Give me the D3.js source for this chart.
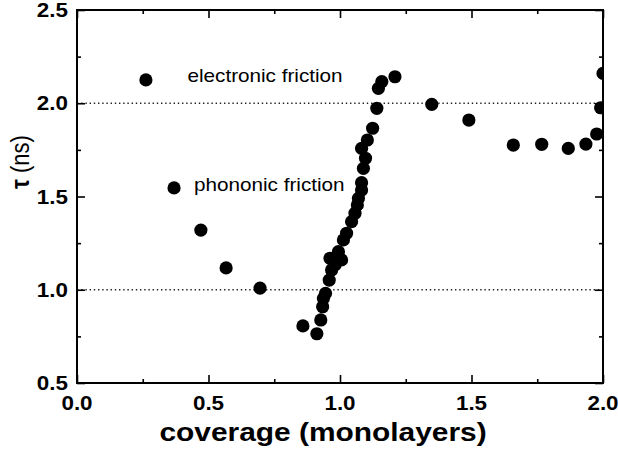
<!DOCTYPE html>
<html>
<head>
<meta charset="utf-8">
<script src="https://cdn.jsdelivr.net/npm/d3@7"></script>
<style>
  html, body { margin: 0; padding: 0; background: #fff; }
  svg { display: block; font-family: "Liberation Sans", Arial, Helvetica, sans-serif; }
</style>
</head>
<body>
<svg id="chart" width="618" height="453"></svg>
<script>
// Relaxation time vs. adsorbate coverage
const coverage = [0.262, 0.369, 0.471, 0.567, 0.696, 0.859, 0.912, 0.927, 0.934, 0.937,
  0.945, 0.959, 0.968, 0.962, 0.987, 1.006, 0.994, 0.981, 1.013, 1.025,
  1.044, 1.057, 1.066, 1.070, 1.082, 1.082, 1.089, 1.097, 1.082, 1.104,
  1.124, 1.140, 1.146, 1.159, 1.209, 1.349, 1.490, 1.659, 1.767, 1.868,
  1.935, 1.976, 1.991, 2.000];
const tau = [2.125, 1.546, 1.320, 1.117, 1.009, 0.806, 0.764, 0.838, 0.909, 0.954,
  0.981, 1.052, 1.106, 1.169, 1.177, 1.160, 1.204, 1.133, 1.267, 1.303,
  1.365, 1.410, 1.455, 1.490, 1.535, 1.574, 1.651, 1.705, 1.758, 1.803,
  1.866, 1.973, 2.080, 2.116, 2.142, 1.994, 1.910, 1.776, 1.780, 1.758,
  1.781, 1.835, 1.976, 2.160];

const xTicks = [0, 0.5, 1.0, 1.5, 2.0];
const xMinor = [0.25, 0.75, 1.25, 1.75];
const yTicks = [0.5, 1.0, 1.5, 2.0, 2.5];
const yMinor = [0.75, 1.25, 1.75, 2.25];
const refLines = [1.0, 2.0];
const annotations = [
  { text: "electronic friction", x: 0.42, y: 2.145 },
  { text: "phononic friction", x: 0.445, y: 1.56 }
];

const plotL = 77, plotR = 603, plotT = 10, plotB = 383;
const stretch = 1.15;

const svg = d3.select("#chart");
svg.append("rect").attr("width", 618).attr("height", 453).attr("fill", "#fff");

const x = d3.scaleLinear().domain([0, 2]).range([plotL, plotR]);
const y = d3.scaleLinear().domain([0.5, 2.5]).range([plotB, plotT]);

// dotted reference levels
svg.append("g").selectAll("line").data(refLines).join("line")
  .attr("x1", plotL).attr("x2", plotR)
  .attr("y1", d => y(d)).attr("y2", d => y(d))
  .attr("stroke", "#222").attr("stroke-width", 1.4)
  .attr("stroke-dasharray", "1.4,2.8");

// data points, clipped to the frame
svg.append("clipPath").attr("id", "plotClip")
  .append("rect").attr("x", plotL).attr("y", plotT)
  .attr("width", plotR - plotL).attr("height", plotB - plotT);

svg.append("g").attr("clip-path", "url(#plotClip)")
  .selectAll("circle").data(coverage.map((c, i) => [c, tau[i]])).join("circle")
  .attr("cx", d => x(d[0])).attr("cy", d => y(d[1]))
  .attr("r", 6.6).attr("fill", "#000");

// ticks on all four sides, pointing inward
function tickAxis(axisFn, scale, vals, size, transform) {
  const g = svg.append("g").attr("transform", transform)
    .call(axisFn(scale).tickValues(vals).tickSize(size).tickFormat(""));
  g.select(".domain").remove();
  g.selectAll(".tick line").attr("stroke", "#000").attr("stroke-width", 1.6);
  return g;
}
tickAxis(d3.axisTop, x, xTicks, 8, `translate(0,${plotB})`);
tickAxis(d3.axisTop, x, xMinor, 4, `translate(0,${plotB})`);
tickAxis(d3.axisBottom, x, xTicks, 8, `translate(0,${plotT})`);
tickAxis(d3.axisBottom, x, xMinor, 4, `translate(0,${plotT})`);
tickAxis(d3.axisRight, y, yTicks, 8, `translate(${plotL},0)`);
tickAxis(d3.axisRight, y, yMinor, 4, `translate(${plotL},0)`);
tickAxis(d3.axisLeft, y, yTicks, 8, `translate(${plotR},0)`);
tickAxis(d3.axisLeft, y, yMinor, 4, `translate(${plotR},0)`);

// frame
svg.append("rect").attr("x", plotL).attr("y", plotT)
  .attr("width", plotR - plotL).attr("height", plotB - plotT)
  .attr("fill", "none").attr("stroke", "#000").attr("stroke-width", 2);

// tick labels
const fmt = d3.format(".1f");
svg.append("g").selectAll("text").data(xTicks).join("text")
  .attr("transform", d => `translate(${x(d)},${plotB + 27}) scale(${stretch},1)`)
  .attr("text-anchor", "middle")
  .attr("font-size", 19.5).attr("font-weight", "bold")
  .text(fmt);

svg.append("g").selectAll("text").data(yTicks).join("text")
  .attr("transform", d => `translate(${plotL - 9},${y(d) + 7}) scale(${stretch},1)`)
  .attr("text-anchor", "end")
  .attr("font-size", 19.5).attr("font-weight", "bold")
  .text(fmt);

// axis titles
svg.append("text")
  .attr("transform", `translate(323,441) scale(${stretch},1)`)
  .attr("text-anchor", "middle")
  .attr("font-size", 26).attr("font-weight", "bold")
  .text("coverage (monolayers)");

const yTitle = svg.append("text")
  .attr("transform", `translate(29,162) rotate(-90) scale(1,${stretch})`)
  .attr("text-anchor", "middle")
  .attr("font-size", 22);
yTitle.append("tspan").attr("font-weight", "bold").text("τ");
yTitle.append("tspan").text(" (ns)");

// regime annotations
svg.append("g").selectAll("text").data(annotations).join("text")
  .attr("transform", d => `translate(${x(d.x)},${y(d.y) + 6}) scale(${stretch},1)`)
  .attr("font-size", 18)
  .text(d => d.text);
</script>
</body>
</html>
